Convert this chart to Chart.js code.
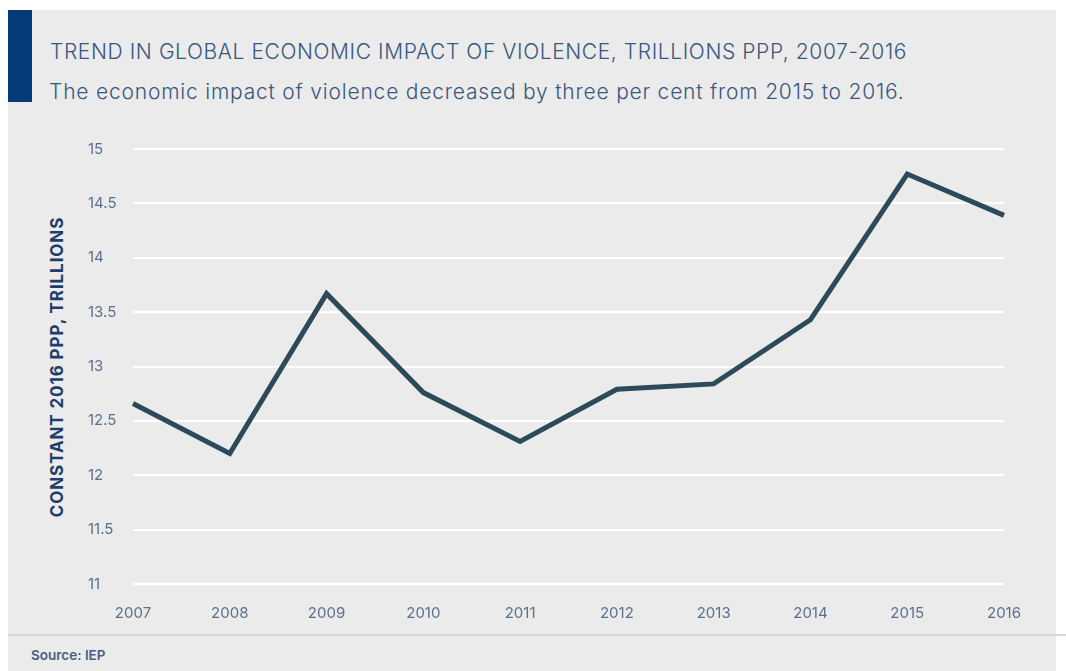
<!DOCTYPE html>
<html>
<head>
<meta charset="utf-8">
<script src="https://cdn.jsdelivr.net/npm/chart.js@4"></script>
<style>
  body { margin: 0; background: #fff; font-family: Inter, "Open Sans", sans-serif; }
  #panel { position: absolute; left: 8px; top: 10px; width: 1048px; height: 661px; background: #ebebeb; }
  #bar { position: absolute; left: 8px; top: 10px; width: 24px; height: 92px; background: #053b79; }
  .txt { position: absolute; white-space: nowrap; color: #37577f; }
  #title { left: 50px; top: 41px; font-size: 21px; line-height: 21px; font-weight: 300; letter-spacing: 0.6px; }
  #subtitle { left: 49px; top: 81px; font-size: 21px; line-height: 21px; font-weight: 300; letter-spacing: 0.8px; }
  #ytitle { left: -143px; top: 356px; width: 400px; height: 22px; line-height: 22px; text-align: center;
            transform: rotate(-90deg); font-size: 17px; font-weight: 700; color: #1d3d6b; letter-spacing: 0.9px; }
  #sep { position: absolute; left: 8px; top: 634px; width: 1058px; height: 2px; background: #d8d8d8; }
  #source { left: 31px; top: 647px; font-size: 13.5px; line-height: 16px; font-weight: 600; color: #4a5f84; }
  canvas { position: absolute; left: 0; top: 0; }
</style>
</head>
<body>
<div id="panel"></div>
<div id="bar"></div>
<div id="title" class="txt">TREND IN GLOBAL ECONOMIC IMPACT OF VIOLENCE, TRILLIONS PPP, 2007-2016</div>
<div id="subtitle" class="txt">The economic impact of violence decreased by three per cent from 2015 to 2016.</div>
<div id="ytitle" class="txt">CONSTANT 2016 PPP, TRILLIONS</div>
<div id="sep"></div>
<div id="source" class="txt">Source: IEP</div>
<canvas id="chart" width="1066" height="671"></canvas>
<script>
const years = ["2007", "2008", "2009", "2010", "2011", "2012", "2013", "2014", "2015", "2016"];
const impact = [12.66, 12.20, 13.67, 12.76, 12.31, 12.79, 12.84, 13.43, 14.77, 14.39];
const yMin = 11;
const yMax = 15;
const yStep = 0.5;

const tickColor = "#5b6f8f";

new Chart(document.getElementById("chart"), {
    type: "line",
    data: {
        labels: years,
        datasets: [{
            data: impact,
            borderColor: "#2c4a5a",
            borderWidth: 5,
            borderJoinStyle: "miter",
            tension: 0,
            pointRadius: 0,
            fill: false
        }]
    },
    options: {
        responsive: false,
        animation: false,
        layout: { padding: { left: 88, right: 62, top: 149, bottom: 29 } },
        plugins: { legend: { display: false }, tooltip: { enabled: false } },
        scales: {
            x: {
                offset: false,
                grid: { display: false, drawTicks: false },
                border: { display: false },
                ticks: { color: tickColor, font: { family: "Inter", size: 15 }, padding: 20, maxRotation: 0 }
            },
            y: {
                min: yMin,
                max: yMax,
                grid: { color: "#ffffff", lineWidth: 2, drawTicks: false },
                border: { display: false },
                ticks: {
                    stepSize: yStep, color: tickColor, font: { family: "Inter", size: 15 },
                    crossAlign: "far", padding: 0,
                    callback: (v) => String(Math.round(v * 10) / 10)
                },
                afterFit: (scale) => { scale.width = 45; }
            }
        }
    }
});
</script>
</body>
</html>
